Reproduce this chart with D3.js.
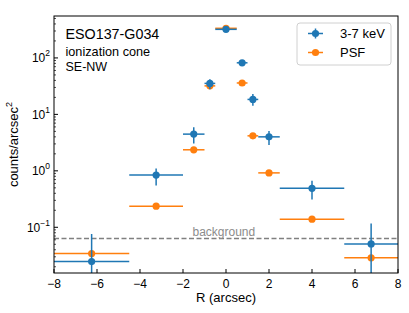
<!DOCTYPE html>
<html>
<head>
<meta charset="utf-8">
<script src="https://cdn.jsdelivr.net/npm/d3@7"></script>
<style>
  body { margin: 0; background: #fff; }
  svg { font-family: "Liberation Sans", Arial, sans-serif; }
</style>
</head>
<body>
<div id="chart"></div>
<script>
// radial bins (arcsec)
var rCenter = [-6.25, -3.25, -1.5, -0.75, 0, 0.75, 1.25, 2, 4, 6.75];
var rLow    = [-8, -4.5, -2, -1, -0.5, 0.5, 1, 1.5, 2.5, 5.5];
var rHigh   = [-4.5, -2, -1, -0.5, 0.5, 1, 1.5, 2.5, 5.5, 8];

// 3-7 keV surface brightness and its error bounds
var band     = [0.0247, 0.84, 4.47, 35.4, 321, 82, 18.4, 4.0, 0.49, 0.0508];
var bandLow  = [0.001, 0.55, 3.06, 28, 308, 75, 14.2, 2.86, 0.31, 0.001];
var bandHigh = [0.076, 1.1, 5.9, 42, 334, 90, 22.9, 5.1, 0.665, 0.117];

// PSF profile
var psf = [0.0343, 0.237, 2.36, 32, 335, 36, 4.17, 0.92, 0.139, 0.0288];

var background = 0.063;
var xTicks = [-8, -6, -4, -2, 0, 2, 4, 6, 8];
var yMajor = [0.1, 1, 10, 100];
var yMajorLabels = ["\u22121", "0", "1", "2"];

var blue = "#1f77b4", orange = "#ff7f0e";

var margin = { top: 16, right: 11, bottom: 40, left: 54 },
  width = 409 - margin.left - margin.right,
  height = 313 - margin.top - margin.bottom;

var svg = d3.select("#chart")
  .append("svg")
  .attr("width", 409)
  .attr("height", 313)
  .append("g")
  .attr("transform", "translate(" + margin.left + "," + margin.top + ")");

var x = d3.scaleLinear().domain([-8, 8]).range([0, width]);
var y = d3.scaleLog().domain([0.0155, 553]).range([height, 0]);

svg.append("clipPath").attr("id", "clip")
  .append("rect").attr("width", width).attr("height", height);

var plot = svg.append("g").attr("clip-path", "url(#clip)");

// background level
plot.append("line")
  .attr("x1", 0).attr("x2", width)
  .attr("y1", y(background)).attr("y2", y(background))
  .attr("stroke", "#808080")
  .attr("stroke-width", 1.5)
  .attr("stroke-dasharray", "5,2.5");

svg.append("text")
  .attr("x", x(-0.1))
  .attr("y", y(background) - 2.5)
  .attr("text-anchor", "middle")
  .style("font-size", "12px")
  .attr("fill", "#8c8c8c")
  .text("background");

function drawSeries(vals, lo, hi, color) {
  var g = plot.append("g");
  vals.forEach(function (v, i) {
    g.append("line")
      .attr("x1", x(rLow[i])).attr("x2", x(rHigh[i]))
      .attr("y1", y(v)).attr("y2", y(v))
      .attr("stroke", color).attr("stroke-width", 1.5);
    if (lo) {
      g.append("line")
        .attr("x1", x(rCenter[i])).attr("x2", x(rCenter[i]))
        .attr("y1", y(lo[i])).attr("y2", y(hi[i]))
        .attr("stroke", color).attr("stroke-width", 1.5);
    }
    g.append("circle")
      .attr("cx", x(rCenter[i]))
      .attr("cy", y(v))
      .attr("r", 3.6)
      .attr("fill", color);
  });
}

drawSeries(psf, null, null, orange);
drawSeries(band, bandLow, bandHigh, blue);

// frame
svg.append("rect")
  .attr("width", width).attr("height", height)
  .attr("fill", "none").attr("stroke", "#000").attr("stroke-width", 1);

// x ticks (inward)
var xAxis = svg.append("g");
xTicks.forEach(function (t) {
  xAxis.append("line")
    .attr("x1", x(t)).attr("x2", x(t))
    .attr("y1", height).attr("y2", height - 4)
    .attr("stroke", "#000");
  xAxis.append("text")
    .attr("x", x(t)).attr("y", height + 14.5)
    .attr("text-anchor", "middle")
    .style("font-size", "12px")
    .text(t < 0 ? "\u2212" + Math.abs(t) : t);
});

// y ticks (log, inward)
var yAxis = svg.append("g");
var dom = y.domain();
for (var e = -2; e <= 2; e++) {
  for (var m = 1; m <= 9; m++) {
    var v = m * Math.pow(10, e);
    if (v < dom[0] || v > dom[1]) continue;
    yAxis.append("line")
      .attr("x1", 0).attr("x2", m === 1 ? 4 : 2)
      .attr("y1", y(v)).attr("y2", y(v))
      .attr("stroke", "#000").attr("stroke-width", m === 1 ? 1 : 0.7);
  }
}
yMajor.forEach(function (v, i) {
  var t = yAxis.append("text")
    .attr("x", -4).attr("y", y(v) + 4.5)
    .attr("text-anchor", "end")
    .style("font-size", "12px");
  t.append("tspan").text("10");
  t.append("tspan").attr("dy", -6).style("font-size", "8.5px").text(yMajorLabels[i]);
});

// axis labels
svg.append("text")
  .attr("x", width / 2).attr("y", height + 29)
  .attr("text-anchor", "middle")
  .style("font-size", "13px")
  .text("R (arcsec)");

var yl = svg.append("text")
  .attr("transform", "translate(-36," + (height / 2) + ") rotate(-90)")
  .attr("text-anchor", "middle")
  .style("font-size", "13px");
yl.append("tspan").text("counts/arcsec");
yl.append("tspan").attr("dy", -6).style("font-size", "9px").text("2");

// annotation
svg.append("text").attr("x", 11.5).attr("y", 22.5)
  .style("font-size", "14.3px").text("ESO137-G034");
svg.append("text").attr("x", 11.5).attr("y", 39.5)
  .style("font-size", "12.7px").text("ionization cone");
svg.append("text").attr("x", 11.5).attr("y", 55)
  .style("font-size", "12.5px").text("SE-NW");

// legend
var lg = svg.append("g").attr("transform", "translate(" + (297 - margin.left) + "," + (23 - margin.top) + ")");
lg.append("rect")
  .attr("width", 94).attr("height", 42).attr("rx", 3)
  .attr("fill", "#fff").attr("fill-opacity", 0.8)
  .attr("stroke", "#d0d0d0").attr("stroke-width", 1);
[{ name: "3-7 keV", color: blue, yerr: true }, { name: "PSF", color: orange, yerr: false }]
  .forEach(function (d, i) {
    var cy = 10.5 + i * 19;
    lg.append("line").attr("x1", 11).attr("x2", 26).attr("y1", cy).attr("y2", cy)
      .attr("stroke", d.color).attr("stroke-width", 1.5);
    if (d.yerr) {
      lg.append("line").attr("x1", 18.5).attr("x2", 18.5).attr("y1", cy - 5).attr("y2", cy + 5)
        .attr("stroke", d.color).attr("stroke-width", 1.5);
    }
    lg.append("circle").attr("cx", 18.5).attr("cy", cy).attr("r", 3.6).attr("fill", d.color);
    lg.append("text").attr("x", 43).attr("y", cy + 4.5)
      .style("font-size", "13px").text(d.name);
  });
</script>
</body>
</html>
